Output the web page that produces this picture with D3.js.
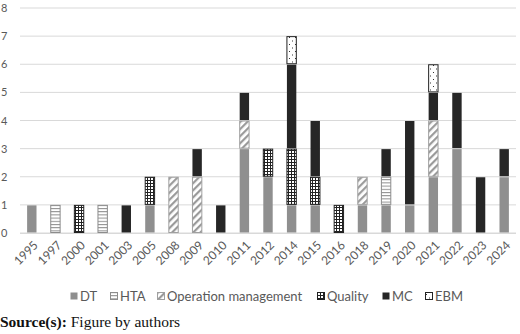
<!DOCTYPE html>
<html>
<head>
<meta charset="utf-8">
<script src="https://cdn.jsdelivr.net/npm/d3@7"></script>
<style>
  body { margin: 0; background: #fff; }
  svg { display: block; }
  .tick text { font-family: Lato, "Open Sans", sans-serif; fill: #595959; }
</style>
</head>
<body>
<svg id="chart" width="520" height="334"></svg>
<script>
'use strict'
// data
const years = ['1995','1997','2000','2001','2003','2005','2008','2009','2010','2011','2012',
  '2014','2015','2016','2018','2019','2020','2021','2022','2023','2024']
const seriesNames = ['DT', 'HTA', 'Operation management', 'Quality', 'MC', 'EBM']
const DT      = [1,0,0,0,0,1,0,0,0,3,2,1,1,0,1,1,1,2,3,0,2]
const HTA     = [0,1,0,1,0,0,0,0,0,0,0,0,0,0,0,1,0,0,0,0,0]
const OM      = [0,0,0,0,0,0,2,2,0,1,0,0,0,0,1,0,0,2,0,0,0]
const Quality = [0,0,1,0,0,1,0,0,0,0,1,2,1,1,0,0,0,0,0,0,0]
const MC      = [0,0,0,0,1,0,0,1,1,1,0,3,2,0,0,1,3,1,2,2,1]
const EBM     = [0,0,0,0,0,0,0,0,0,0,0,1,0,0,0,0,0,1,0,0,0]
const yTicks = [0,1,2,3,4,5,6,7,8]

const table = years.map((yr, i) => ({
  year: yr, 'DT': DT[i], 'HTA': HTA[i], 'Operation management': OM[i],
  'Quality': Quality[i], 'MC': MC[i], 'EBM': EBM[i]
}))

const svg = d3.select('#chart')
const plotLeft = 20, plotRight = 516, plotTop = 8, plotBottom = 233

// patterns
const defs = svg.append('defs')
const hta = defs.append('pattern').attr('id', 'p-hta').attr('patternUnits', 'userSpaceOnUse')
  .attr('width', 4).attr('height', 3.2)
hta.append('rect').attr('width', 4).attr('height', 3.2).attr('fill', '#fff')
hta.append('line').attr('x1', 0).attr('x2', 4).attr('y1', 0.5).attr('y2', 0.5)
  .attr('stroke', '#8c8c8c').attr('stroke-width', 1)

const om = defs.append('pattern').attr('id', 'p-om').attr('patternUnits', 'userSpaceOnUse')
  .attr('width', 5).attr('height', 5).attr('patternTransform', 'rotate(45)')
om.append('rect').attr('width', 5).attr('height', 5).attr('fill', '#fff')
om.append('rect').attr('width', 2.2).attr('height', 5).attr('fill', '#9a9a9a')

const q = defs.append('pattern').attr('id', 'p-q').attr('patternUnits', 'userSpaceOnUse')
  .attr('width', 3).attr('height', 3)
q.append('rect').attr('width', 3).attr('height', 3).attr('fill', '#fff')
q.append('path').attr('d', 'M0,0.5H3M0.5,0V3').attr('stroke', '#222').attr('stroke-width', 1)

const ebm = defs.append('pattern').attr('id', 'p-ebm').attr('patternUnits', 'userSpaceOnUse')
  .attr('width', 6).attr('height', 7)
ebm.append('rect').attr('width', 6).attr('height', 7).attr('fill', '#fff')
ebm.append('rect').attr('x', 1).attr('y', 2).attr('width', 1).attr('height', 1).attr('fill', '#333')
ebm.append('rect').attr('x', 4).attr('y', 5.5).attr('width', 1).attr('height', 1).attr('fill', '#333')

const fills = {
  'DT': '#8f8f8f', 'HTA': 'url(#p-hta)', 'Operation management': 'url(#p-om)',
  'Quality': 'url(#p-q)', 'MC': '#262626', 'EBM': 'url(#p-ebm)'
}
const strokes = {
  'DT': 'none', 'HTA': '#8c8c8c', 'Operation management': '#a0a0a0',
  'Quality': '#222', 'MC': 'none', 'EBM': '#222'
}

const x = d3.scaleBand().domain(years).range([plotLeft, plotRight]).paddingInner(0.56).paddingOuter(0.28)
const y = d3.scaleLinear().domain([0, 8]).range([plotBottom, plotTop])

// grid
svg.append('g').selectAll('line').data(yTicks).enter().append('line')
  .attr('x1', plotLeft).attr('x2', plotRight)
  .attr('y1', d => y(d)).attr('y2', d => y(d))
  .attr('stroke', '#d9d9d9').attr('stroke-width', 1)

// y axis labels
const yAxis = svg.append('g').attr('transform', 'translate(' + plotLeft + ',0)')
  .call(d3.axisLeft(y).tickValues(yTicks).tickSize(0).tickPadding(10))
yAxis.select('.domain').remove()
yAxis.selectAll('text').attr('font-size', 11).attr('text-anchor', 'start').attr('x', -19)

// bars
const stacked = d3.stack().keys(seriesNames)(table)
svg.append('g').selectAll('g').data(stacked).enter().append('g')
  .attr('fill', d => fills[d.key])
  .attr('stroke', d => strokes[d.key])
  .selectAll('rect')
  .data(d => d.filter(p => p[1] > p[0]))
  .enter().append('rect')
  .attr('x', d => x(d.data.year) + 0.5)
  .attr('y', d => y(d[1]) + 0.5)
  .attr('width', x.bandwidth() - 1)
  .attr('height', d => y(d[0]) - y(d[1]) - 1)

// x axis
const xAxis = svg.append('g').attr('transform', 'translate(0,' + plotBottom + ')')
  .call(d3.axisBottom(x).tickSize(0).tickPadding(6))
xAxis.select('.domain').attr('stroke', '#d9d9d9').attr('d', 'M' + plotLeft + ',0.5H' + plotRight)
xAxis.selectAll('text').attr('font-size', 12)
  .attr('x', 0).attr('y', 0).attr('dy', '0.35em')
  .attr('text-anchor', 'end')
  .attr('transform', 'translate(4,10) rotate(-45)')

// legend
const legendItems = [
  { key: 'DT', x: 70 }, { key: 'HTA', x: 110 }, { key: 'Operation management', x: 157 },
  { key: 'Quality', x: 317 }, { key: 'MC', x: 382 }, { key: 'EBM', x: 425 }
]
const lg = svg.append('g').selectAll('g').data(legendItems).enter().append('g')
  .attr('transform', d => 'translate(' + d.x + ',292)')
lg.append('rect').attr('x', 0.5).attr('y', 0.5).attr('width', 7).attr('height', 7)
  .attr('fill', d => fills[d.key])
  .attr('stroke', d => strokes[d.key] === 'none' ? 'none' : strokes[d.key])
lg.append('text').attr('x', 10).attr('y', 8.5)
  .attr('font-family', 'Lato, "Open Sans", sans-serif').attr('font-size', 13)
  .attr('fill', '#595959').text(d => d.key)

// source line
const src = svg.append('text').attr('x', 0).attr('y', 327)
  .attr('font-family', '"Liberation Serif", "Times New Roman", serif').attr('font-size', 15.5)
  .attr('fill', '#111')
src.append('tspan').attr('font-weight', 'bold').text('Source(s):')
src.append('tspan').text(' Figure by authors')
</script>
</body>
</html>
